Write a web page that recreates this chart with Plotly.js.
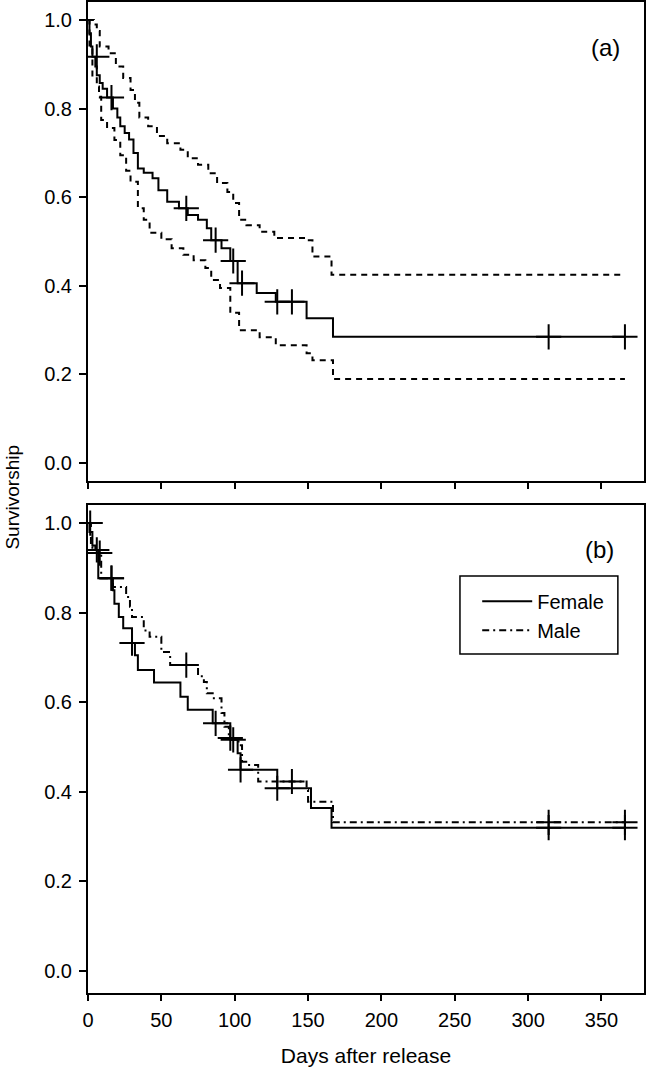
<!DOCTYPE html>
<html><head><meta charset="utf-8">
<script src="https://cdn.plot.ly/plotly-3.0.1.min.js"></script>
<style>html,body{margin:0;padding:0;background:#fff;}</style>
</head><body><div id="chart" style="width:648px;height:1070px;"></div>
<script>
// ---- Panel (a): overall survivorship with 95% CI ----
const allDays  = [0,1,2,3,5,6,8,10,13,17,20,22,25,28,31,34,38,44,48,54,62,68,75,81,84,91,97,102,115,128,149,167,366];
const allSurv  = [1.0,0.97,0.94,0.917,0.895,0.875,0.858,0.845,0.825,0.80,0.78,0.76,0.745,0.73,0.70,0.665,0.655,0.643,0.616,0.59,0.575,0.56,0.549,0.53,0.503,0.485,0.456,0.406,0.384,0.364,0.327,0.285,0.285];
const allCensorDays = [6,16,67,87,99,105,129,139,314,366];
const allCensorSurv = [0.917,0.825,0.575,0.503,0.456,0.406,0.364,0.364,0.285,0.285];

const upperDays = [0,4,6,8,14,19,24,29,32,35,41,47,54,63,68,75,82,88,95,99,103,108,117,127,148,153,166,366];
const upperSurv = [1.0,0.99,0.975,0.94,0.925,0.895,0.869,0.842,0.813,0.78,0.76,0.738,0.722,0.707,0.688,0.673,0.654,0.632,0.612,0.587,0.549,0.537,0.522,0.508,0.503,0.466,0.425,0.425];

const lowerDays = [0,1,3,6,7.5,9,13,18,22,26,29,34,38,42,50,57,65,72,80,84,90,97,103,117,128,149,153,167,366];
const lowerSurv = [1.0,0.94,0.872,0.85,0.827,0.774,0.756,0.729,0.695,0.66,0.635,0.575,0.549,0.52,0.505,0.485,0.47,0.458,0.44,0.413,0.395,0.339,0.30,0.284,0.266,0.248,0.232,0.19,0.19];

// ---- Panel (b): by sex ----
const femaleDays = [0,1,3,5,7,17,18,21,24,30,32,34,45,63,68,85,97,102,104,129,152,166,366];
const femaleSurv = [1.0,0.98,0.95,0.94,0.877,0.85,0.82,0.79,0.765,0.732,0.705,0.672,0.644,0.612,0.583,0.553,0.516,0.486,0.449,0.408,0.364,0.32,0.32];
const femaleCensorDays = [6,16,30,87,99,104,129,314,366];
const femaleCensorSurv = [0.94,0.877,0.732,0.553,0.516,0.449,0.408,0.32,0.32];

const maleDays = [0,2,3,9,17,26,28.6,30,38,42,50,56,75,79,81,85,91,93,96,102.6,105,109,116,149,150,167,366];
const maleSurv = [1.0,0.947,0.933,0.877,0.857,0.835,0.813,0.79,0.76,0.746,0.712,0.683,0.658,0.645,0.62,0.609,0.576,0.545,0.52,0.504,0.467,0.46,0.423,0.404,0.378,0.332,0.332];
const maleCensorDays = [1.5,8,16,67,97,139,314,366];
const maleCensorSurv = [1.0,0.933,0.877,0.683,0.52,0.423,0.332,0.332];

const seriesNames = ['Female','Male'];
const panelLabels = ['(a)','(b)'];
const xTickVals = [0,50,100,150,200,250,300,350];
const yTickVals = [0,0.2,0.4,0.6,0.8,1.0];
const yTickText = ['0.0','0.2','0.4','0.6','0.8','1.0'];

const FONT = 'Liberation Sans, Arial, sans-serif';
const LW = 2;

function stepLine(x, y, xa, ya, dash, name, showleg) {
  return {x:x, y:y, xaxis:xa, yaxis:ya, type:'scatter', mode:'lines',
    line:{shape:'hv', color:'#000', width:LW, dash:dash},
    name:name||'', showlegend:!!showleg, hoverinfo:'skip'};
}
function censor(x, y, xa, ya) {
  return {x:x, y:y, xaxis:xa, yaxis:ya, type:'scatter', mode:'markers',
    marker:{symbol:'cross-thin', size:18, color:'#000', line:{color:'#000', width:2}},
    showlegend:false, hoverinfo:'skip'};
}

const traces = [
  stepLine(upperDays, upperSurv, 'x2', 'y2', '6px,5px'),
  stepLine(lowerDays, lowerSurv, 'x2', 'y2', '6px,5px'),
  stepLine(allDays, allSurv, 'x2', 'y2', 'solid'),
  censor(allCensorDays, allCensorSurv, 'x2', 'y2'),
  stepLine(femaleDays, femaleSurv, 'x', 'y', 'solid', seriesNames[0], true),
  stepLine(maleDays, maleSurv, 'x', 'y', '7px,4px,2px,4px', seriesNames[1], true),
  censor(femaleCensorDays, femaleCensorSurv, 'x', 'y'),
  censor(maleCensorDays, maleCensorSurv, 'x', 'y')
];

const axBase = {
  showline:true, linecolor:'#000', linewidth:2, mirror:true,
  ticks:'outside', tickwidth:2, tickcolor:'#000',
  showgrid:false, zeroline:false,
  tickfont:{family:FONT, size:20, color:'#000'}
};

const layout = {
  width:648, height:1070,
  margin:{l:88, r:4, t:2, b:77},
  paper_bgcolor:'#fff', plot_bgcolor:'#fff',
  font:{family:FONT, color:'#000'},
  showlegend:true,
  legend:{x:0.70, y:0.415, xanchor:'left', yanchor:'top', bgcolor:'rgba(0,0,0,0)',
    borderwidth:0, itemwidth:50, font:{family:FONT, size:20, color:'#000'}},
  xaxis:Object.assign({}, axBase, {domain:[0,1], anchor:'y', range:[0,379],
    tickvals:xTickVals, ticklen:6, ticklabelstandoff:2,
    title:{text:'Days after release', font:{family:FONT, size:21, color:'#000'}, standoff:18}}),
  xaxis2:Object.assign({}, axBase, {domain:[0,1], anchor:'y2', range:[0,379],
    tickvals:xTickVals, ticklen:6, showticklabels:false, matches:'x'}),
  yaxis:Object.assign({}, axBase, {domain:[0,0.4924], anchor:'x', range:[-0.0491,1.0402],
    tickvals:yTickVals, ticktext:yTickText, ticklen:7, ticklabelstandoff:3}),
  yaxis2:Object.assign({}, axBase, {domain:[0.5166,1], anchor:'x2', range:[-0.0406,1.0406],
    tickvals:yTickVals, ticktext:yTickText, ticklen:7, ticklabelstandoff:3}),
  shapes:[{type:'rect', xref:'paper', yref:'paper', x0:0.669, x1:0.953, y0:0.342, y1:0.4208,
    line:{color:'#000', width:1.5}, fillcolor:'rgba(0,0,0,0)'}],
  annotations:[
    {text:'Survivorship', xref:'paper', yref:'paper', x:-0.1375, y:0.5005, textangle:-90,
      xanchor:'center', yanchor:'middle',
      showarrow:false, font:{family:FONT, size:19, color:'#000'}},
    {text:panelLabels[0], xref:'x2', yref:'y2', x:352.7, y:0.939, showarrow:false,
      xanchor:'center', yanchor:'middle', font:{family:FONT, size:24, color:'#000'}},
    {text:panelLabels[1], xref:'x', yref:'y', x:349, y:0.942, showarrow:false,
      xanchor:'center', yanchor:'middle', font:{family:FONT, size:24, color:'#000'}}
  ]
};

Plotly.newPlot('chart', traces, layout, {staticPlot:true, displayModeBar:false});
</script></body></html>
